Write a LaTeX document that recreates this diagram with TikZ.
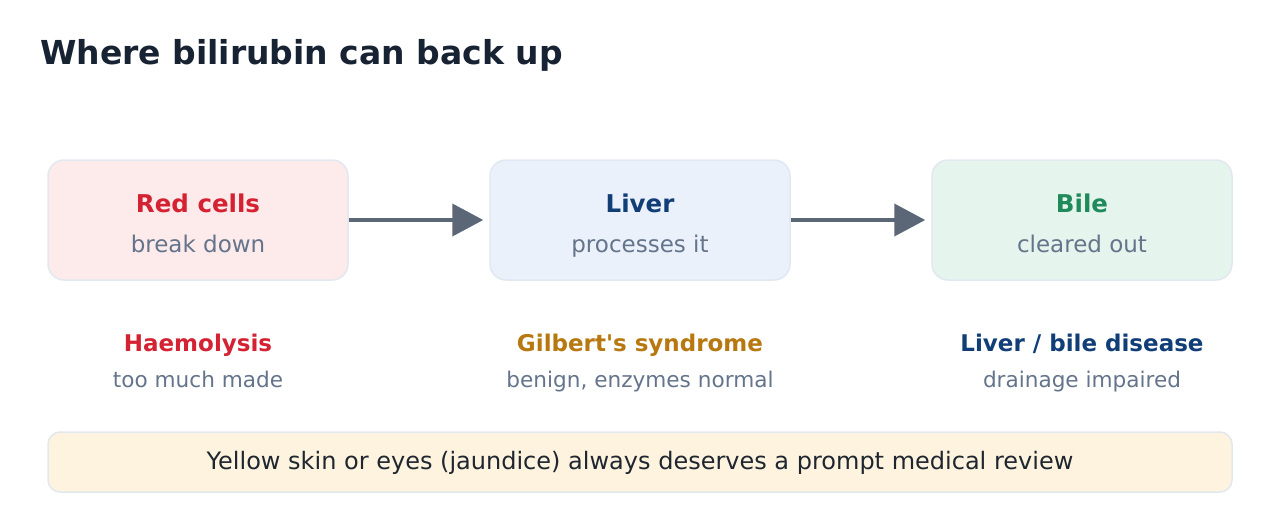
\documentclass[tikz,border=0pt]{standalone}
\usepackage{fontspec}
\setmainfont{DejaVu Sans}[Ligatures=TeXOff]
\usepackage{tikz}
\usetikzlibrary{arrows.meta}
\usepackage{xcolor}

\definecolor{titleink}{HTML}{172233}
\definecolor{subink}{HTML}{64748B}
\definecolor{bodyink}{HTML}{1F2630}
\definecolor{redink}{HTML}{D42233}
\definecolor{blueink}{HTML}{123E78}
\definecolor{greenink}{HTML}{1F8A5A}
\definecolor{amberink}{HTML}{B7780F}
\definecolor{redfill}{HTML}{FDEAEA}
\definecolor{bluefill}{HTML}{EAF1FB}
\definecolor{greenfill}{HTML}{E5F4EC}
\definecolor{amberfill}{HTML}{FDF3DE}
\definecolor{edgeline}{HTML}{E2E8F0}
\definecolor{arrowink}{HTML}{5B6776}

\begin{document}
\begin{tikzpicture}[x=1pt, y=-1pt,
    stagebox/.style={draw=edgeline, line width=1.5pt, rounded corners=16pt,
        minimum width=300pt, minimum height=120pt, inner sep=0pt},
    headtext/.style={anchor=base, inner sep=0pt, font=\fontsize{24.5}{28}\selectfont\bfseries},
    subtext/.style={anchor=base, inner sep=0pt, text=subink, font=\fontsize{23}{27}\selectfont},
    causehead/.style={anchor=base, inner sep=0pt, font=\fontsize{23}{27}\selectfont\bfseries},
    causesub/.style={anchor=base, inner sep=0pt, text=subink, font=\fontsize{21.6}{25}\selectfont},
    flowarrow/.style={draw=arrowink, line width=4pt, shorten >=6pt,
        -{Triangle[length=31pt, width=32pt]}}]
    \useasboundingbox (0,0) rectangle (1280,520);

    % Title
    \node[anchor=base west, inner sep=0pt, text=titleink, font=\fontsize{33}{38}\selectfont\bfseries]
        (title) at (40,64) {Where bilirubin can back up};

    % Stages
    \node[stagebox, fill=redfill] (redcells) at (198,220) {};
    \node[headtext, text=redink] (redhead) at (198,212) {Red cells};
    \node[subtext] (redsub) at (198,252) {break down};

    \node[stagebox, fill=bluefill] (liver) at (640,220) {};
    \node[headtext, text=blueink] (liverhead) at (640,212) {Liver};
    \node[subtext] (liversub) at (640,252) {processes it};

    \node[stagebox, fill=greenfill] (bile) at (1082,220) {};
    \node[headtext, text=greenink] (bilehead) at (1082,212) {Bile};
    \node[subtext] (bilesub) at (1082,252) {cleared out};

    % Flow
    \draw[flowarrow] (redcells.east) -- (liver.west);
    \draw[flowarrow] (liver.east) -- (bile.west);

    % Where it backs up
    \node[causehead, text=redink] (haemo) at (198,351) {Haemolysis};
    \node[causesub] (haemosub) at (198,387) {too much made};

    \node[causehead, text=amberink] (gilbert) at (640,351) {Gilbert's syndrome};
    \node[causesub] (gilbertsub) at (640,387) {benign, enzymes normal};

    \node[causehead, text=blueink] (disease) at (1082,351) {Liver / bile disease};
    \node[causesub] (diseasesub) at (1082,387) {drainage impaired};

    % Warning banner
    \node[draw=edgeline, line width=1.5pt, fill=amberfill, rounded corners=12pt,
        minimum width=1184pt, minimum height=60pt] (banner) at (640,462) {};
    \node[anchor=base, inner sep=0pt, text=bodyink, font=\fontsize{24}{28}\selectfont]
        (bannertext) at (640,469)
        {Yellow skin or eyes (jaundice) always deserves a prompt medical review};
\end{tikzpicture}
\end{document}
